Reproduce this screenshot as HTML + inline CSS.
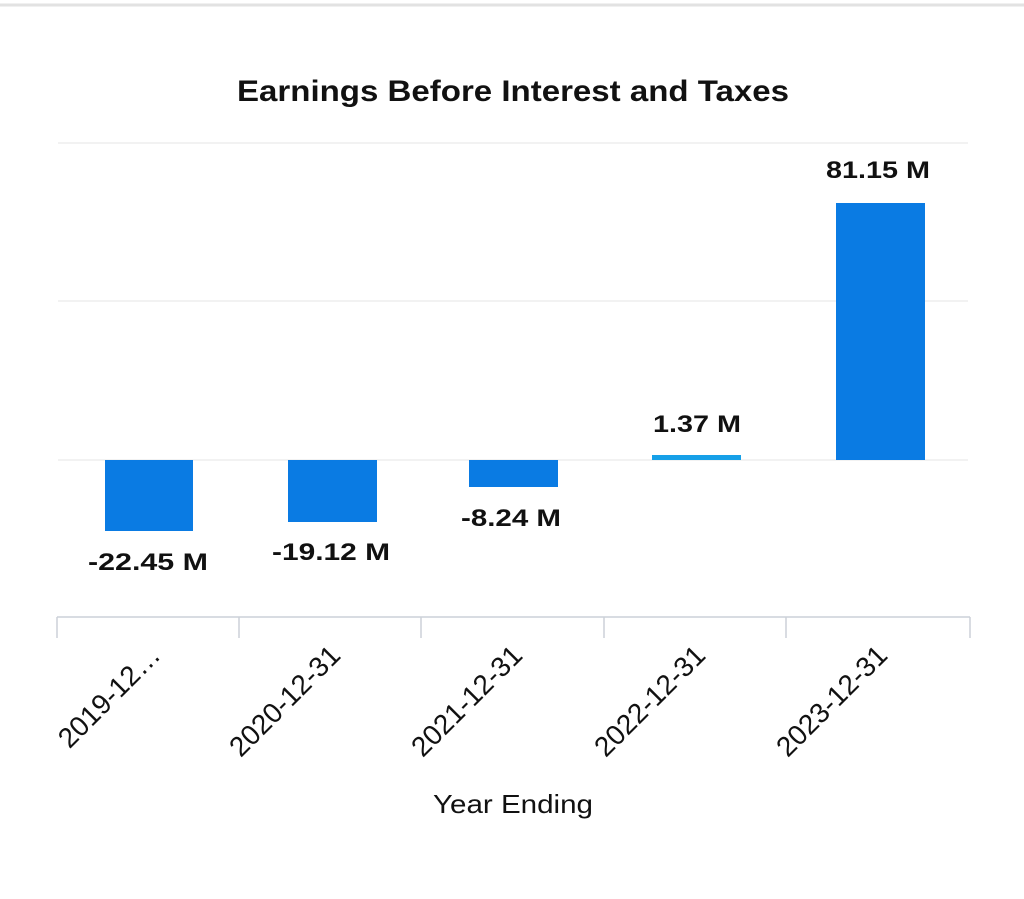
<!DOCTYPE html>
<html><head><style>
html,body{margin:0;padding:0;background:#fff;}
svg{display:block;font-family:"Liberation Sans",sans-serif;}
</style></head><body>
<svg width="1024" height="899" viewBox="0 0 1024 899">
<rect x="0" y="0" width="1024" height="899" fill="#fff"/>
<line x1="0" y1="5" x2="1024" y2="5" stroke="#e2e2e2" stroke-width="3"/>
<text x="513" y="101" text-anchor="middle" font-size="30" font-weight="bold" fill="#111" textLength="552" lengthAdjust="spacingAndGlyphs">Earnings Before Interest and Taxes</text>
<g stroke="#e6e6e6" stroke-width="1">
<line x1="58" y1="143" x2="968" y2="143"/>
<line x1="58" y1="301" x2="968" y2="301"/>
<line x1="58" y1="460" x2="968" y2="460"/>
</g>
<g fill="#0a7be3">
<rect x="105" y="460" width="88" height="71"/>
<rect x="288" y="460" width="89" height="62"/>
<rect x="469" y="460" width="89" height="27"/>
<rect x="652" y="455" width="89" height="5" fill="#16a0e8"/>
<rect x="836" y="203" width="89" height="257"/>
</g>
<g font-size="24" font-weight="bold" fill="#111" text-anchor="middle">
<text x="148" y="570" textLength="120" lengthAdjust="spacingAndGlyphs">-22.45 M</text>
<text x="331" y="560" textLength="118" lengthAdjust="spacingAndGlyphs">-19.12 M</text>
<text x="511" y="526" textLength="100" lengthAdjust="spacingAndGlyphs">-8.24 M</text>
<text x="697" y="432" textLength="88" lengthAdjust="spacingAndGlyphs">1.37 M</text>
<text x="878" y="178" textLength="104" lengthAdjust="spacingAndGlyphs">81.15 M</text>
</g>
<g stroke="#ccd1d8" stroke-width="1.5">
<line x1="57" y1="617" x2="970" y2="617"/>
<line x1="57" y1="617" x2="57" y2="638"/>
<line x1="239" y1="617" x2="239" y2="638"/>
<line x1="421" y1="617" x2="421" y2="638"/>
<line x1="604" y1="617" x2="604" y2="638"/>
<line x1="786" y1="617" x2="786" y2="638"/>
<line x1="970" y1="617" x2="970" y2="638"/>
</g>
<g font-size="28" fill="#111" text-anchor="end">
<text transform="translate(162,657) rotate(-45)">2019-12…</text>
<text transform="translate(342,657) rotate(-45)">2020-12-31</text>
<text transform="translate(524,657) rotate(-45)">2021-12-31</text>
<text transform="translate(707,657) rotate(-45)">2022-12-31</text>
<text transform="translate(889,657) rotate(-45)">2023-12-31</text>
</g>
<text x="513" y="813" text-anchor="middle" font-size="26" fill="#111" textLength="160" lengthAdjust="spacingAndGlyphs">Year Ending</text>
</svg>
</body></html>
